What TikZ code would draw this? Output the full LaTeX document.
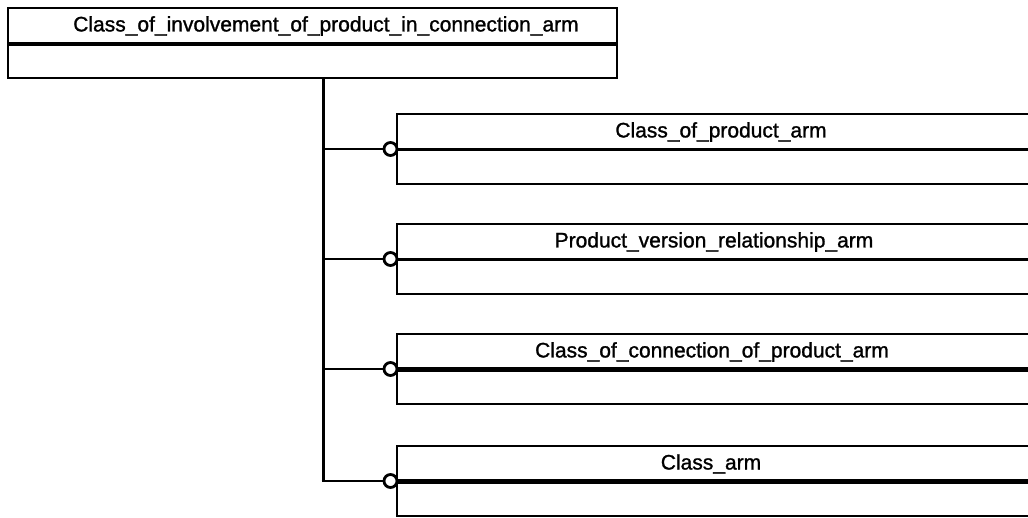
\documentclass[tikz,border=0pt]{standalone}
\usepackage{fontspec}
\setmainfont{Liberation Sans}[FakeBold=1.2]
\begin{document}
\begin{tikzpicture}[x=1pt,y=-1pt,
  box/.style={draw, line width=2.8pt, rectangle, anchor=north west, inner sep=0pt, outer sep=0pt},
  lbl/.style={font=\fontsize{21}{25}\selectfont, inner sep=0pt},
  ring/.style={draw, circle, line width=2.8pt, fill=white, minimum size=13pt, inner sep=0pt, outer sep=0pt, anchor=east},
  link/.style={line width=2.8pt},
  thinlink/.style={line width=2.2pt}]
\useasboundingbox (0,0) rectangle (1028,517);
% top box
\node[box, minimum width=609pt, minimum height=70pt] (top) at (8,8) {};
\draw[line width=4pt] (top.west |- 0,44) -- (top.east |- 0,44);
\node[lbl] (toplbl) at (326,26) {Class\_of\_involvement\_of\_product\_in\_connection\_arm};
% sub boxes
\node[box, minimum width=640pt, minimum height=70pt] (b1) at (397,114) {};
\node[box, minimum width=640pt, minimum height=70pt] (b2) at (397,224) {};
\node[box, minimum width=640pt, minimum height=70pt] (b3) at (397,334) {};
\node[box, minimum width=640pt, minimum height=70pt] (b4) at (397,446) {};
\draw[line width=3pt] (b1.west) -- (b1.east);
\draw[line width=3pt] (b2.west) -- (b2.east);
\draw[line width=5pt] (b3.west) -- (b3.east);
\draw[line width=5pt] (b4.west) -- (b4.east);
\node[lbl] (l1) at (721,132) {Class\_of\_product\_arm};
\node[lbl] (l2) at (714,242) {Product\_version\_relationship\_arm};
\node[lbl] (l3) at (712,352) {Class\_of\_connection\_of\_product\_arm};
\node[lbl] (l4) at (711,464) {Class\_arm};
% connectors
\node[ring] (c1) at (b1.west) {};
\node[ring] (c2) at (b2.west) {};
\node[ring] (c3) at (b3.west) {};
\node[ring] (c4) at (b4.west) {};
\coordinate (t0) at (323,78);
\coordinate (t1) at (t0 |- c1.west);
\coordinate (t2) at (t0 |- c2.west);
\coordinate (t3) at (t0 |- c3.west);
\coordinate (t4) at (t0 |- c4.west);
\draw[line width=3pt] (t0) -- ([yshift=-1pt]t4);
\draw[link] (t1) -- (c1.west);
\draw[link] (t2) -- (c2.west);
\draw[thinlink] (t3) -- (c3.west);
\draw[thinlink] ([xshift=-1.5pt]t4) -- (c4.west);
\end{tikzpicture}
\end{document}
